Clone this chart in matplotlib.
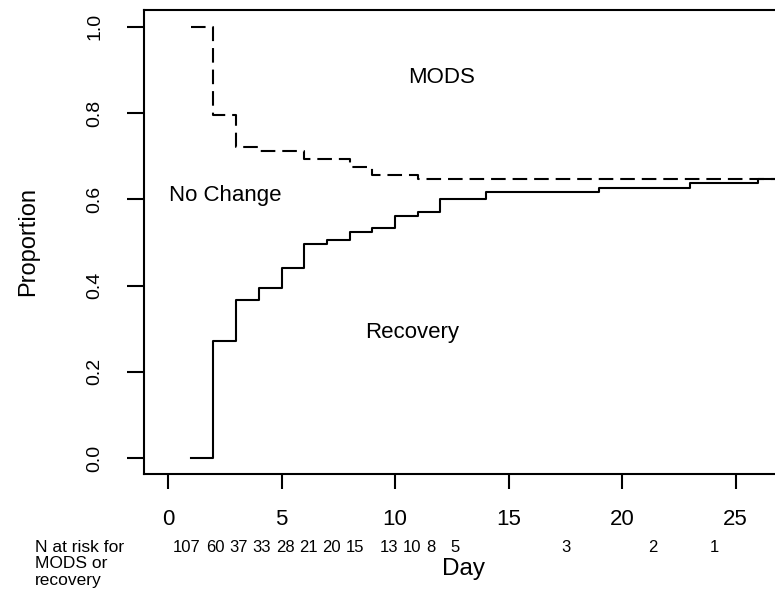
import matplotlib
matplotlib.use("Agg")
import matplotlib.pyplot as plt

plt.rcParams['font.family'] = ['Liberation Sans', 'DejaVu Sans']
plt.rcParams['lines.scale_dashes'] = False

# step curves (day, proportion)
mods_days = [1, 2, 3, 4, 6, 8, 9, 11, 26, 27]
mods_prop = [1.0, 0.796, 0.722, 0.712, 0.693, 0.674, 0.656, 0.646, 0.646, 0.646]

rec_days = [1, 2, 3, 4, 5, 6, 7, 8, 9, 10, 11, 12, 14, 19, 23, 26, 27]
rec_prop = [0.0, 0.272, 0.366, 0.394, 0.440, 0.497, 0.506, 0.524, 0.534,
            0.561, 0.571, 0.600, 0.618, 0.627, 0.637, 0.646, 0.646]

# numbers at risk and the day each one is printed under
risk_n = [107, 60, 37, 33, 28, 21, 20, 15, 13, 10, 8, 5, 3, 2, 1]
risk_day = [0.82, 2.07, 3.1, 4.12, 5.15, 6.18, 7.2, 8.22, 9.74, 10.74,
            11.6, 12.65, 17.55, 21.35, 24.05]

xticks = [0, 5, 10, 15, 20, 25]
yticks = [0.0, 0.2, 0.4, 0.6, 0.8, 1.0]

fig = plt.figure(figsize=(7.75, 5.95), dpi=100)
ax = fig.add_axes([0.1858, 0.2034, 0.8142, 0.7798])

ax.step(mods_days, mods_prop, where='post', color='black', lw=1.5,
        linestyle=(0, (10.5, 5)))
ax.step(rec_days, rec_prop, where='post', color='black', lw=1.5)

ax.set_xlim(-1.06, 26.74)
ax.set_ylim(-0.037, 1.039)

ax.spines['right'].set_visible(False)
for s in ['top', 'left', 'bottom']:
    ax.spines[s].set_linewidth(1.5)

# R style axes: ticks outside, labels a bit away
ax.set_xticks(xticks)
ax.set_xticklabels([str(t) for t in xticks], fontsize=16)
ax.set_yticks(yticks)
ax.set_yticklabels(['%.1f' % t for t in yticks], fontsize=14, rotation=90,
                   va='center')
ax.tick_params(axis='x', length=11, width=1.5, pad=14)
ax.tick_params(axis='y', length=12, width=1.5, pad=17)

ax.set_ylabel('Proportion', fontsize=17, labelpad=34)

ax.text(12.07, 0.882, 'MODS', fontsize=16, ha='center', va='center')
ax.text(2.51, 0.608, 'No Change', fontsize=16, ha='center', va='center')
ax.text(10.77, 0.291, 'Recovery', fontsize=16, ha='center', va='center')

# numbers at risk under the axis
trans = ax.get_xaxis_transform()
for d, n in zip(risk_day, risk_n):
    ax.text(d, -0.159, str(n), transform=trans, fontsize=12,
            ha='center', va='center', clip_on=False)

fig.text(35 / 775, 1 - 548 / 595, 'N at risk for', fontsize=12.5,
         ha='left', va='center')
fig.text(35 / 775, 1 - 564 / 595, 'MODS or', fontsize=12.5,
         ha='left', va='center')
fig.text(35 / 775, 1 - 580 / 595, 'recovery', fontsize=12.5,
         ha='left', va='center')

fig.text(463 / 775, 1 - 569 / 595, 'Day', fontsize=17.5, ha='center',
         va='center')

fig.savefig('out.png', dpi=100)
